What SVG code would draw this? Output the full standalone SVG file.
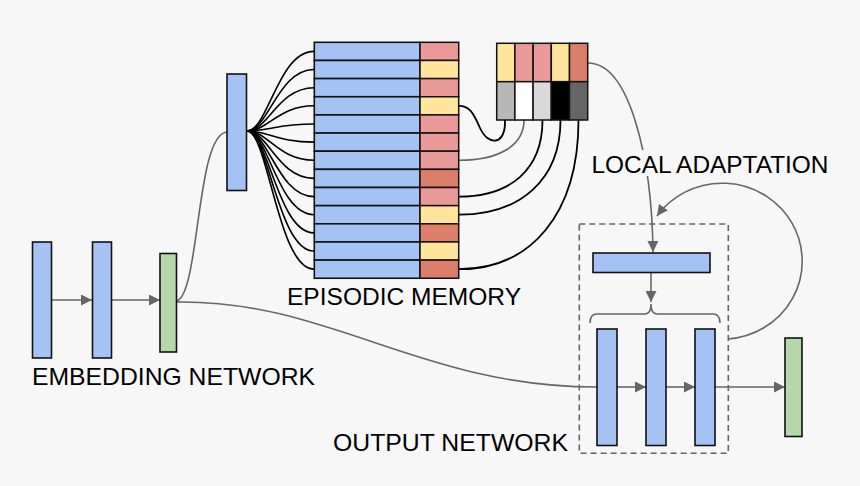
<svg xmlns="http://www.w3.org/2000/svg" width="860" height="486" viewBox="0 0 860 486">
<defs>
<style>
.bl{fill:#a4c2f4;stroke:#111;stroke-width:1.6}
.gr{fill:#b6d7a8;stroke:#111;stroke-width:1.6}
.c{stroke:#111;stroke-width:1.5}
.pk{fill:#ea9999}.ye{fill:#ffe599}.rd{fill:#dd7e6b}
.fan{fill:none;stroke:#000;stroke-width:1.6}
.gl{fill:none;stroke:#666;stroke-width:1.6}
.bk{fill:none;stroke:#000;stroke-width:1.8}
.t{font-family:"Liberation Sans",Arial,sans-serif;font-size:24px;fill:#000}
</style>
<marker id="ah" viewBox="0 0 10 10" refX="10" refY="5" markerWidth="11" markerHeight="11" markerUnits="userSpaceOnUse" orient="auto">
<path d="M0,0 L10,5 L0,10 z" fill="#666"/>
</marker>
</defs>
<rect width="860" height="486" fill="#f7f7f7"/>

<g id="connectors">
<!-- embedding arrows -->
<line class="gl" x1="52" y1="300" x2="92" y2="300" marker-end="url(#ah)"/>
<line class="gl" x1="112" y1="300" x2="160" y2="300" marker-end="url(#ah)"/>
<!-- green to query -->
<path class="gl" d="M177 301 C200 292 196 134 227 132"/>
<!-- green to output -->
<path class="gl" d="M177 302 C330 300 420 387 597 387"/>
<!-- fan -->
<path class="fan" d="M247 131 C268 131 278 51.4 314 51.4"/>
<path class="fan" d="M247 131 C268 131 278 69.5 314 69.5"/>
<path class="fan" d="M247 131 C268 131 278 87.7 314 87.7"/>
<path class="fan" d="M247 131 C268 131 278 105.8 314 105.8"/>
<path class="fan" d="M247 131 C268 131 278 124 314 124"/>
<path class="fan" d="M247 131 C268 131 278 142.1 314 142.1"/>
<path class="fan" d="M247 131 C268 131 278 160.3 314 160.3"/>
<path class="fan" d="M247 131 C268 131 278 178.4 314 178.4"/>
<path class="fan" d="M247 131 C268 131 278 196.6 314 196.6"/>
<path class="fan" d="M247 131 C268 131 278 214.7 314 214.7"/>
<path class="fan" d="M247 131 C268 131 278 232.9 314 232.9"/>
<path class="fan" d="M247 131 C268 131 278 251 314 251"/>
<path class="fan" d="M247 131 C268 131 278 269.2 314 269.2"/>
<!-- memory rows to key cells -->
<path class="bk" d="M505 120 C506 146 488 146 480 128 C473 112 469 105.8 459 105.8"/>
<path class="gl" d="M524 120 C524 145 500 160.3 459 160.3"/>
<path class="bk" d="M542.5 120 C542.5 170 510 196.6 459 196.6"/>
<path class="bk" d="M560.5 120 C560.5 180 520 214.7 459 214.7"/>
<path class="bk" d="M578.5 120 C578.5 215 530 269.2 459 269.2"/>
<!-- local adaptation -->
<path class="gl" d="M588 63 C630 63 652 160 653 252" marker-end="url(#ah)"/>
<!-- loop -->
<path class="gl" d="M728 339 A80 78 0 1 0 657 216" marker-end="url(#ah)"/>
<!-- bar to bracket -->
<line class="gl" x1="651" y1="273" x2="651" y2="302" marker-end="url(#ah)"/>
<path class="gl" d="M590 323 Q590 314 597 314 L645 314 Q651 314 651 304 Q651 314 657 314 L713 314 Q720 314 720 323"/>
<!-- output arrows -->
<line class="gl" x1="617" y1="387" x2="646" y2="387" marker-end="url(#ah)"/>
<line class="gl" x1="666" y1="387" x2="695" y2="387" marker-end="url(#ah)"/>
<line class="gl" x1="715" y1="387" x2="785" y2="387" marker-end="url(#ah)"/>
</g>

<g id="embedding-network">
<rect class="bl" x="32.5" y="242" width="19" height="116"/>
<rect class="bl" x="92.5" y="242" width="19" height="116"/>
<rect class="gr" x="160" y="253.5" width="16.5" height="98.5"/>
<text class="t" x="32" y="385" textLength="283" lengthAdjust="spacingAndGlyphs">EMBEDDING NETWORK</text>
</g>

<g id="query">
<rect class="bl" x="227" y="74" width="19.5" height="116.5"/>
</g>

<g id="episodic-memory">
<g class="c">
<rect class="bl" x="314.3" y="42.3" width="105.7" height="18.15"/><rect class="pk c" x="420" y="42.3" width="38.7" height="18.15"/>
<rect class="bl" x="314.3" y="60.45" width="105.7" height="18.15"/><rect class="ye c" x="420" y="60.45" width="38.7" height="18.15"/>
<rect class="bl" x="314.3" y="78.6" width="105.7" height="18.15"/><rect class="pk c" x="420" y="78.6" width="38.7" height="18.15"/>
<rect class="bl" x="314.3" y="96.75" width="105.7" height="18.15"/><rect class="ye c" x="420" y="96.75" width="38.7" height="18.15"/>
<rect class="bl" x="314.3" y="114.9" width="105.7" height="18.15"/><rect class="pk c" x="420" y="114.9" width="38.7" height="18.15"/>
<rect class="bl" x="314.3" y="133.05" width="105.7" height="18.15"/><rect class="pk c" x="420" y="133.05" width="38.7" height="18.15"/>
<rect class="bl" x="314.3" y="151.2" width="105.7" height="18.15"/><rect class="pk c" x="420" y="151.2" width="38.7" height="18.15"/>
<rect class="bl" x="314.3" y="169.35" width="105.7" height="18.15"/><rect class="rd c" x="420" y="169.35" width="38.7" height="18.15"/>
<rect class="bl" x="314.3" y="187.5" width="105.7" height="18.15"/><rect class="pk c" x="420" y="187.5" width="38.7" height="18.15"/>
<rect class="bl" x="314.3" y="205.65" width="105.7" height="18.15"/><rect class="ye c" x="420" y="205.65" width="38.7" height="18.15"/>
<rect class="bl" x="314.3" y="223.8" width="105.7" height="18.15"/><rect class="rd c" x="420" y="223.8" width="38.7" height="18.15"/>
<rect class="bl" x="314.3" y="241.95" width="105.7" height="18.15"/><rect class="ye c" x="420" y="241.95" width="38.7" height="18.15"/>
<rect class="bl" x="314.3" y="260.1" width="105.7" height="18.15"/><rect class="rd c" x="420" y="260.1" width="38.7" height="18.15"/>
</g>
<text class="t" x="287" y="305" textLength="234" lengthAdjust="spacingAndGlyphs">EPISODIC MEMORY</text>
</g>

<g id="retrieved-neighbours">
<rect class="ye c" x="496.7" y="43.3" width="18.2" height="38.4"/>
<rect class="pk c" x="514.9" y="43.3" width="18.2" height="38.4"/>
<rect class="pk c" x="533.1" y="43.3" width="18.2" height="38.4"/>
<rect class="ye c" x="551.3" y="43.3" width="18.2" height="38.4"/>
<rect class="rd c" x="569.5" y="43.3" width="18.2" height="38.4"/>
<rect class="c" fill="#b7b7b7" x="496.7" y="81.7" width="18.2" height="38.3"/>
<rect class="c" fill="#ffffff" x="514.9" y="81.7" width="18.2" height="38.3"/>
<rect class="c" fill="#d9d9d9" x="533.1" y="81.7" width="18.2" height="38.3"/>
<rect class="c" fill="#000000" x="551.3" y="81.7" width="18.2" height="38.3"/>
<rect class="c" fill="#666666" x="569.5" y="81.7" width="18.2" height="38.3"/>
</g>

<g id="local-adaptation-label">
<rect x="589" y="150" width="242" height="26" fill="#f7f7f7"/>
<text class="t" x="591.5" y="173.3" textLength="237" lengthAdjust="spacingAndGlyphs">LOCAL ADAPTATION</text>
</g>

<g id="output-network">
<rect x="579.3" y="224" width="149" height="229.3" fill="none" stroke="#666" stroke-width="1.6" stroke-dasharray="6,4"/>
<rect class="bl" x="593" y="253" width="117" height="19.5"/>
<rect class="bl" x="597" y="329" width="20" height="116.5"/>
<rect class="bl" x="646" y="329" width="20" height="116.5"/>
<rect class="bl" x="695" y="329" width="20" height="116.5"/>
<text class="t" x="333" y="451" textLength="235" lengthAdjust="spacingAndGlyphs">OUTPUT NETWORK</text>
</g>

<g id="output">
<rect class="gr" x="785" y="338" width="17" height="98.5"/>
</g>
</svg>
